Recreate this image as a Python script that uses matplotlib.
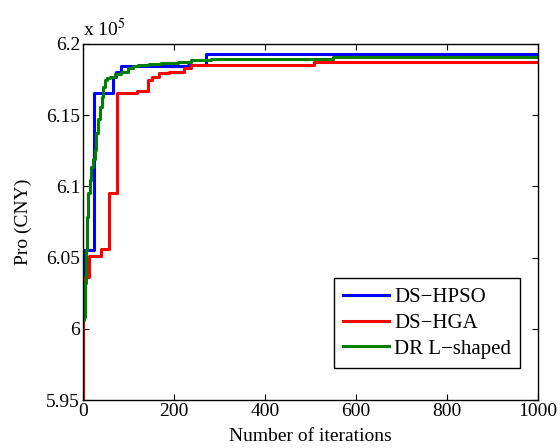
import matplotlib
matplotlib.use("Agg")
import matplotlib.pyplot as plt
from matplotlib.ticker import FuncFormatter

plt.rcParams['font.family'] = ['Liberation Serif', 'DejaVu Serif']
plt.rcParams['mathtext.fontset'] = 'stix'

# DS-HPSO (step curve; value holds from its iteration until the next one)
hpso_iter = [0, 0.5, 24, 66, 72, 83, 231, 270, 1000]
hpso_val = [603780, 605530, 616540, 617660, 618050, 618470, 618520, 619300, 619300]

# DS-HGA (step curve)
hga_iter = [0, 0.5, 12.5, 39, 56.5, 75.5, 119, 143, 152, 168, 190, 209, 222, 238, 508, 1000]
hga_val = [595000, 603660, 605110, 605580, 609560, 616540, 616700, 617470, 617700,
           617940, 618010, 618050, 618340, 618500, 618760, 618760]

# DR L-shaped
dr_iter = [0, 2, 4, 7, 9, 11, 15, 18, 22, 26, 29, 33, 37, 41, 44, 48, 53, 59, 70, 84,
           99, 110, 121, 145, 171, 209, 238, 281, 550, 1000]
dr_val = [600620, 600850, 603200, 605530, 607870, 609510, 610450, 611380, 611900, 612560,
          613730, 614700, 615600, 616300, 617000, 617470, 617600, 617700, 617880, 618050,
          618290, 618420, 618520, 618600, 618690, 618760, 618880, 618940, 619110, 619110]

fig = plt.figure(figsize=(5.6, 4.48), dpi=100)
ax = fig.add_axes([0.148, 0.107, 0.813, 0.795])

lw = 2.2
ax.plot(hpso_iter, hpso_val, color='#0000ff', lw=lw, drawstyle='steps-post', label='DS\u2212HPSO')
ax.plot(hga_iter, hga_val, color='#ff0000', lw=lw, drawstyle='steps-post', label='DS\u2212HGA')
ax.plot(dr_iter, dr_val, color='#008000', lw=lw, drawstyle='steps-post', label='DR L\u2212shaped')

ax.set_xlim(0, 1000)
ax.set_ylim(595000, 620000)
ax.set_xticks([0, 200, 400, 600, 800, 1000])
ax.set_yticks([595000, 600000, 605000, 610000, 615000, 620000])
ax.yaxis.set_major_formatter(FuncFormatter(lambda v, p: '%g' % round(v / 1e5, 3)))
ax.tick_params(direction='in', labelsize=14, top=True, right=True, length=4, width=0.8, pad=2)
for s in ax.spines.values():
    s.set_linewidth(1.0)

ax.set_xlabel('Number of iterations', fontsize=14, labelpad=6)
ax.set_ylabel('Pro (CNY)', fontsize=14, labelpad=10)
ax.text(0.0, 1.01, r'x 10$^{5}$', transform=ax.transAxes, fontsize=14, ha='left', va='bottom')

leg = ax.legend(loc='lower right', bbox_to_anchor=(0.961, 0.09), fontsize=15, fancybox=False,
                edgecolor='black', framealpha=1, borderpad=0.45, labelspacing=0.3,
                handlelength=2.2, handletextpad=0.25, borderaxespad=0)
leg.get_frame().set_linewidth(1.0)

fig.savefig('out.png', dpi=100)
